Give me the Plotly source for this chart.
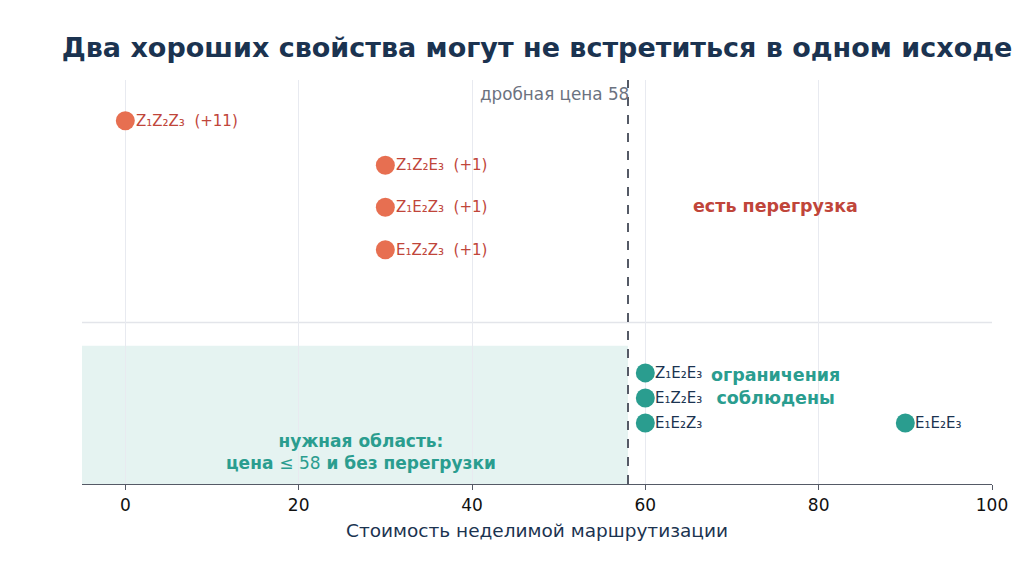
import plotly.graph_objects as go

# points with overload (top block)
over_cost = [0, 30, 30, 30]
over_row = [8.99, 7.89, 6.85, 5.8]
over_labels = ["Z₁Z₂Z₃  (+11)", "Z₁Z₂E₃  (+1)", "Z₁E₂Z₃  (+1)", "E₁Z₂Z₃  (+1)"]

# points that respect constraints (bottom block)
ok_cost = [60, 60, 60, 90]
ok_row = [2.75, 2.13, 1.51, 1.51]
ok_labels = ["Z₁E₂E₃", "E₁Z₂E₃", "E₁E₂Z₃", "E₁E₂E₃"]

frac_price = 58
x_ticks = [0, 20, 40, 60, 80, 100]

FONT = "DejaVu Sans"
NAVY = "#1b3350"
CORAL = "#e76f51"
RED = "#c0453a"
TEAL = "#2a9d8f"

fig = go.Figure()

# target area
fig.add_shape(type="rect", x0=-5, x1=frac_price, y0=0, y1=3.42,
              fillcolor="rgba(42,157,143,0.12)", line_width=0, layer="below")
# separator between blocks
fig.add_shape(type="line", x0=-5, x1=100, y0=4.0, y1=4.0,
              line=dict(color="#e3e5ea", width=1.5), layer="below")
# fractional price
fig.add_shape(type="line", x0=frac_price, x1=frac_price, y0=0, y1=10,
              line=dict(color="#555a66", width=2, dash="dash"))

fig.add_trace(go.Scatter(
    x=over_cost, y=over_row, mode="markers",
    marker=dict(size=19, color=CORAL, line=dict(width=0)),
    cliponaxis=False, showlegend=False, hoverinfo="skip",
))
fig.add_trace(go.Scatter(
    x=ok_cost, y=ok_row, mode="markers",
    marker=dict(size=19, color=TEAL, line=dict(width=0)),
    cliponaxis=False, showlegend=False, hoverinfo="skip",
))

for cx, cy, lab in zip(over_cost, over_row, over_labels):
    fig.add_annotation(x=cx, y=cy, text=lab, showarrow=False, xanchor="left",
                       xshift=9, font=dict(family=FONT, size=15, color=RED))
for cx, cy, lab in zip(ok_cost, ok_row, ok_labels):
    fig.add_annotation(x=cx, y=cy, text=lab, showarrow=False, xanchor="left",
                       xshift=8, font=dict(family=FONT, size=15, color=NAVY))

fig.add_annotation(x=frac_price, y=9.66, text="дробная цена 58", showarrow=False,
                   xanchor="right", xshift=3, font=dict(family=FONT, size=16.8, color="#6b7280"))
fig.add_annotation(x=75, y=6.88, text="<b>есть перегрузка</b>", showarrow=False,
                   font=dict(family=FONT, size=17.5, color=RED))
fig.add_annotation(x=75, y=2.42, text="<b>ограничения</b><br><b>соблюдены</b>", showarrow=False,
                   font=dict(family=FONT, size=17.5, color=TEAL))
fig.add_annotation(x=27.2, y=0.78,
                   text="<b>нужная область:</b><br><b>цена </b>≤ 58<b> и без перегрузки</b>",
                   showarrow=False, font=dict(family=FONT, size=17, color=TEAL))

fig.update_layout(
    width=1024, height=576,
    margin=dict(l=74, r=40, t=72, b=100),
    paper_bgcolor="white", plot_bgcolor="white",
    title=dict(text="<b>Два хороших свойства могут не встретиться в одном исходе</b>",
               x=0.5, xref="paper", y=0.932, yanchor="middle",
               font=dict(family=FONT, size=27, color=NAVY)),
    xaxis=dict(range=[-5, 100], tickvals=x_ticks, showgrid=True, gridcolor="#e8eaf0",
               gridwidth=1, zeroline=False, showline=True, linecolor="#555a66",
               linewidth=1.2, ticks="outside", ticklen=5, tickcolor="#555a66",
               tickfont=dict(family=FONT, size=17, color="#111"),
               title=dict(text="Стоимость неделимой маршрутизации", standoff=10,
                          font=dict(family=FONT, size=18.5, color=NAVY))),
    yaxis=dict(range=[0, 10], showgrid=False, zeroline=False, showticklabels=False,
               showline=False),
    font=dict(family=FONT),
)

fig.write_html("out.html")
